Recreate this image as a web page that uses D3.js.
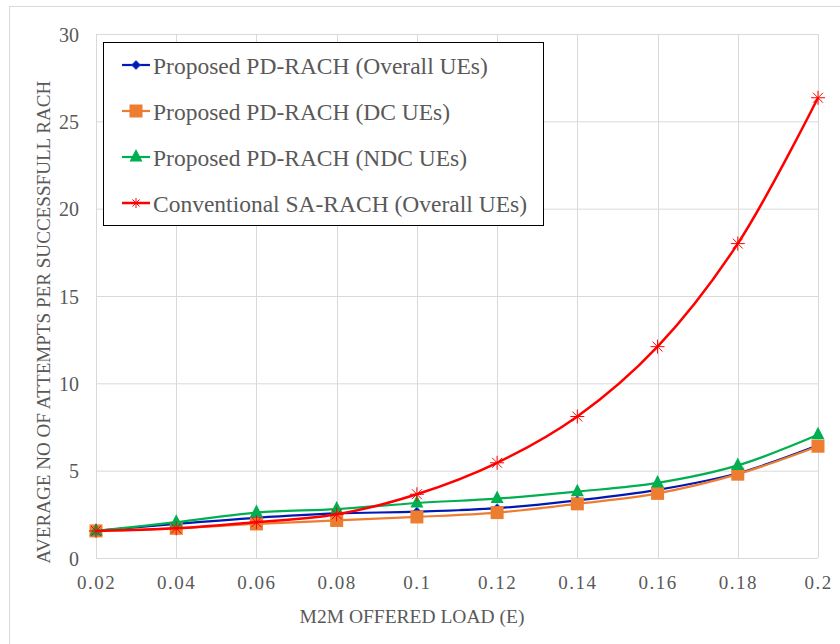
<!DOCTYPE html>
<html>
<head>
<meta charset="utf-8">
<script src="https://cdnjs.cloudflare.com/ajax/libs/d3/7.8.5/d3.min.js"></script>
<style>
  body { margin: 0; background: #fff; }
  svg { display: block; }
  text { font-family: 'Liberation Serif', 'DejaVu Serif', serif; }
</style>
</head>
<body>
<div id="chart"></div>
<script>
var width = 840;
var height = 644;

// data
var loads = [0.02, 0.04, 0.06, 0.08, 0.1, 0.12, 0.14, 0.16, 0.18, 0.2];
var overallUEs = [1.55, 1.95, 2.3, 2.55, 2.65, 2.85, 3.3, 3.9, 4.85, 6.45];
var dcUEs = [1.55, 1.7, 1.95, 2.15, 2.35, 2.6, 3.1, 3.7, 4.8, 6.4];
var ndcUEs = [1.55, 2.05, 2.6, 2.8, 3.15, 3.4, 3.8, 4.3, 5.3, 7.05];
var conventional = [1.55, 1.7, 2.05, 2.5, 3.65, 5.45, 8.1, 12.1, 18.0, 26.35];
var xTicks = [0.02, 0.04, 0.06, 0.08, 0.1, 0.12, 0.14, 0.16, 0.18, 0.2];
var yTicks = [0, 5, 10, 15, 20, 25, 30];
var seriesNames = ['Proposed PD-RACH (Overall UEs)', 'Proposed PD-RACH (DC UEs)',
                   'Proposed PD-RACH (NDC UEs)', 'Conventional SA-RACH (Overall UEs)'];

var series = [
  {name: seriesNames[0], values: overallUEs, color: '#0018b4', marker: 'diamond', w: 2.2},
  {name: seriesNames[1], values: dcUEs, color: '#ed7d31', marker: 'square', w: 2.2},
  {name: seriesNames[2], values: ndcUEs, color: '#00b050', marker: 'triangle', w: 2.2},
  {name: seriesNames[3], values: conventional, color: '#ff0000', marker: 'star', w: 2.5}
];

var font = "'Liberation Serif', 'DejaVu Serif', serif";
var grey = '#595959';

var svg = d3.select('#chart').append('svg')
    .attr('width', width)
    .attr('height', height);

// outer chart border
svg.append('rect')
    .attr('x', 9.5).attr('y', 6.5)
    .attr('width', 900).attr('height', 700)
    .attr('fill', 'none')
    .attr('stroke', '#d9d9d9');

var x = d3.scaleLinear().domain([0.02, 0.2]).range([96, 818]);
var y = d3.scaleLinear().domain([0, 30]).range([558, 34]);

// gridlines
svg.append('g').selectAll('line').data(yTicks).enter().append('line')
    .attr('x1', x(0.02)).attr('x2', x(0.2))
    .attr('y1', function (d) { return y(d) + 0.5; })
    .attr('y2', function (d) { return y(d) + 0.5; })
    .attr('stroke', '#d9d9d9').attr('stroke-width', 1);
svg.append('g').selectAll('line').data(xTicks).enter().append('line')
    .attr('x1', function (d) { return Math.round(x(d)) + 0.5; })
    .attr('x2', function (d) { return Math.round(x(d)) + 0.5; })
    .attr('y1', y(0)).attr('y2', y(30))
    .attr('stroke', '#d9d9d9').attr('stroke-width', 1);

// axes (labels only, lines come from the grid)
var xAxis = svg.append('g')
    .attr('transform', 'translate(0,' + y(0) + ')')
    .call(d3.axisBottom(x).tickValues(xTicks).tickSize(0)
          .tickFormat(function (d) { return String(+d.toFixed(2)); }));
var yAxis = svg.append('g')
    .attr('transform', 'translate(' + x(0.02) + ',0)')
    .call(d3.axisLeft(y).tickValues(yTicks).tickSize(0).tickPadding(17));
[xAxis, yAxis].forEach(function (a) {
  a.attr('font-family', null).attr('font-size', null);
  a.select('.domain').remove();
});
xAxis.selectAll('text')
    .attr('y', 31).attr('dy', null)
    .attr('font-family', font)
    .attr('font-size', 19)
    .style('letter-spacing', '1.5px')
    .attr('fill', grey);
yAxis.selectAll('text')
    .attr('dy', 7).attr('font-family', font)
    .attr('font-size', 20)
    .attr('fill', grey);

// axis titles
svg.append('text')
    .attr('x', 412).attr('y', 623)
    .attr('text-anchor', 'middle')
    .attr('font-family', font).attr('font-size', 19.5)
    .attr('fill', grey)
    .text('M2M OFFERED LOAD (E)');
svg.append('text')
    .attr('transform', 'translate(50,322) rotate(-90)')
    .attr('text-anchor', 'middle')
    .attr('font-family', font).attr('font-size', 19.1)
    .attr('fill', grey)
    .text('AVERAGE NO OF ATTEMPTS PER SUCCESSFULL RACH');

function drawMarker(g, type, color, cx, cy, s) {
  if (type == 'diamond') {
    g.append('path')
      .attr('d', 'M' + cx + ',' + (cy - 4.5) + 'L' + (cx + 4.5) + ',' + cy + 'L' + cx + ',' + (cy + 4.5) + 'L' + (cx - 4.5) + ',' + cy + 'Z')
      .attr('fill', color).attr('stroke', '#2050d0').attr('stroke-width', 0.8);
  } else if (type == 'square') {
    g.append('rect')
      .attr('x', cx - 6.5).attr('y', cy - 6.5)
      .attr('width', 13).attr('height', 13)
      .attr('fill', color);
  } else if (type == 'triangle') {
    g.append('path')
      .attr('d', 'M' + cx + ',' + (cy - 8) + 'L' + (cx + 6.5) + ',' + (cy + 4.5) + 'L' + (cx - 6.5) + ',' + (cy + 4.5) + 'Z')
      .attr('fill', color);
  } else {
    var r = s || 7;
    var p = '';
    [0, 45, 90, 135].forEach(function (a) {
      var rad = a * Math.PI / 180;
      var dx = Math.cos(rad) * r, dy = Math.sin(rad) * r;
      p += 'M' + (cx - dx) + ',' + (cy - dy) + 'L' + (cx + dx) + ',' + (cy + dy);
    });
    g.append('path').attr('d', p)
      .attr('stroke', color).attr('stroke-width', 1).attr('fill', 'none');
  }
}

var line = d3.line()
    .x(function (d, i) { return x(loads[i]); })
    .y(function (d) { return y(d); })
    .curve(d3.curveCatmullRom.alpha(0.5));

series.forEach(function (s) {
  var g = svg.append('g');
  g.append('path')
    .attr('d', line(s.values))
    .attr('fill', 'none')
    .attr('stroke', s.color)
    .attr('stroke-width', s.w);
  s.values.forEach(function (v, i) {
    drawMarker(g, s.marker, s.color, x(loads[i]), y(v));
  });
});

// legend
var lg = svg.append('g');
lg.append('rect')
    .attr('x', 103.5).attr('y', 42.5)
    .attr('width', 440).attr('height', 183)
    .attr('fill', '#fff')
    .attr('stroke', '#000').attr('stroke-width', 1);
var legendY = [65, 111, 157, 203];
series.forEach(function (s, i) {
  var ly = legendY[i];
  lg.append('line')
    .attr('x1', 122).attr('x2', 150)
    .attr('y1', ly).attr('y2', ly)
    .attr('stroke', s.color).attr('stroke-width', s.w);
  drawMarker(lg, s.marker, s.color, 136, ly, 5);
  lg.append('text')
    .attr('x', 153).attr('y', ly + 8.5)
    .attr('font-family', font).attr('font-size', 23.5)
    .attr('fill', grey)
    .text(s.name);
});
</script>
</body>
</html>
